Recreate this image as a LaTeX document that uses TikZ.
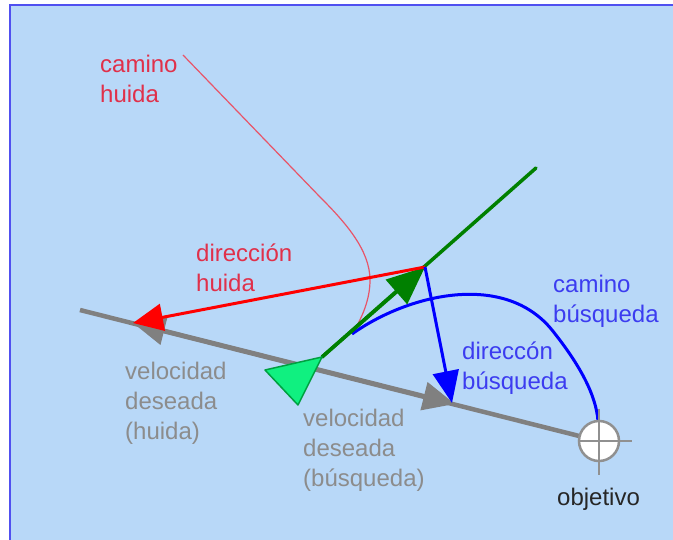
\documentclass[tikz,border=0pt]{standalone}
\usepackage{fontspec}
\setmainfont{Liberation Sans}
\usetikzlibrary{arrows.meta}
\definecolor{bgblue}{HTML}{B8D8F8}
\definecolor{frameblue}{HTML}{5050F0}
\definecolor{fleered}{HTML}{FF0000}
\definecolor{fleelabel}{HTML}{E0304A}
\definecolor{fleepath}{HTML}{E85468}
\definecolor{seekblue}{HTML}{0000FF}
\definecolor{seeklabel}{HTML}{3C3CF0}
\definecolor{velgray}{HTML}{808080}
\definecolor{velgraylabel}{HTML}{8C8C8C}
\definecolor{headgreen}{HTML}{008000}
\definecolor{bodygreen}{HTML}{10F080}
\definecolor{bodyedge}{HTML}{00A040}
\definecolor{targetgray}{HTML}{909090}
\tikzset{
  lbl/.style={anchor=base west, inner sep=0pt, font=\fontsize{24}{30}\selectfont},
  grayline/.style={draw=velgray, line width=4.5pt},
  grayvec/.style={draw=velgray, line width=4.5pt, -{Triangle[length=32pt,width=28pt]}},
  redvec/.style={draw=fleered, line width=3pt, -{Triangle[length=30pt,width=27pt]}},
  bluevec/.style={draw=seekblue, line width=3pt, -{Triangle[length=32pt,width=26pt]}},
  greenvec/.style={draw=headgreen, line width=3.5pt, -{Triangle[length=38pt,width=32pt]}},
  greenline/.style={draw=headgreen, line width=3.5pt, line cap=round},
  fleecurve/.style={draw=fleepath, line width=1.2pt},
  seekcurve/.style={draw=seekblue, line width=3pt},
}
\newcommand{\twolines}[2]{\begin{tabular}[t]{@{}l@{}}#1\\#2\end{tabular}}
\newcommand{\threelines}[3]{\begin{tabular}[t]{@{}l@{}}#1\\#2\\#3\end{tabular}}
\begin{document}
\begin{tikzpicture}[x=1pt,y=-1pt]
  % canvas and frame
  \useasboundingbox (0,0) rectangle (673,540);
  \fill[white] (0,0) rectangle (673,540);
  \fill[bgblue] (9,4) rectangle (673,540);
  \draw[frameblue, line width=2.5pt] (10.2,540) -- (10.2,5.2) -- (673,5.2);

  % key points
  \coordinate (lineL) at (80,310);
  \coordinate (tgt) at (599,441);
  \coordinate (gc) at (300,365);
  \coordinate (fleeTip) at (133,323);
  \coordinate (seekTip) at (455,404);
  \coordinate (gstart) at (322,357);
  \coordinate (vel) at (425,267);
  \coordinate (gend) at (536,168);
  \coordinate (steerTip) at (452,403);
  \coordinate (fpA) at (183,55);
  \coordinate (fpB) at (320,197);
  \coordinate (fpC) at (370,280);
  \coordinate (fpD) at (352,334);
  \coordinate (spA) at (352,334);
  \coordinate (spB) at (598,421);

  % desired velocity line and its two arrows
  \draw[grayline] (lineL) -- (tgt);
  \draw[grayvec] (gc) -- (seekTip);
  \draw[grayvec] (gc) -- (fleeTip);

  % flee path
  \draw[fleecurve] (fpA) -- (fpB) .. controls (345,222) and (370,250) .. (fpC)
                   .. controls (370,300) and (362,318) .. (fpD);

  % seek path
  \draw[seekcurve] (spA) .. controls (410,293) and (505,272) .. (552,330)
                   .. controls (580,365) and (596,395) .. (spB);

  % heading and current velocity
  \draw[greenline] (gstart) -- (gend);
  \draw[greenvec] (gstart) -- (vel);

  % steering directions
  \draw[redvec] (vel) -- (fleeTip);
  \draw[bluevec] (vel) -- (steerTip);

  % vehicle body
  \filldraw[fill=bodygreen, draw=bodyedge, line width=1.5pt, line join=round]
    (265,370) -- (322,357) -- (298,405) -- cycle;

  % target marker
  \node[circle, draw=targetgray, fill=white, line width=2.5pt, minimum size=40pt,
        inner sep=0pt] (target) at (tgt) {};
  \draw[targetgray, line width=2pt] (target.west) -- ([xshift=12pt]target.east);
  \draw[targetgray, line width=2pt] ([yshift=11pt]target.north) -- ([yshift=-13pt]target.south);

  % labels
  \node[lbl, text=fleelabel] (lCaminoHuida) at (100,73) {\twolines{camino}{huida}};
  \node[lbl, text=fleelabel] (lDirHuida) at (196,262) {\twolines{dirección}{huida}};
  \node[lbl, text=velgraylabel] (lVelHuida) at (125,380) {\threelines{velocidad}{deseada}{(huida)}};
  \node[lbl, text=velgraylabel] (lVelBusq) at (303,427) {\threelines{velocidad}{deseada}{(búsqueda)}};
  \node[lbl, text=seeklabel] (lCaminoBusq) at (553,293) {\twolines{camino}{búsqueda}};
  \node[lbl, text=seeklabel] (lDirBusq) at (462,360) {\twolines{direccón}{búsqueda}};
  \node[lbl, text=black!85] (lObjetivo) at (557,505) {objetivo};
\end{tikzpicture}
\end{document}
